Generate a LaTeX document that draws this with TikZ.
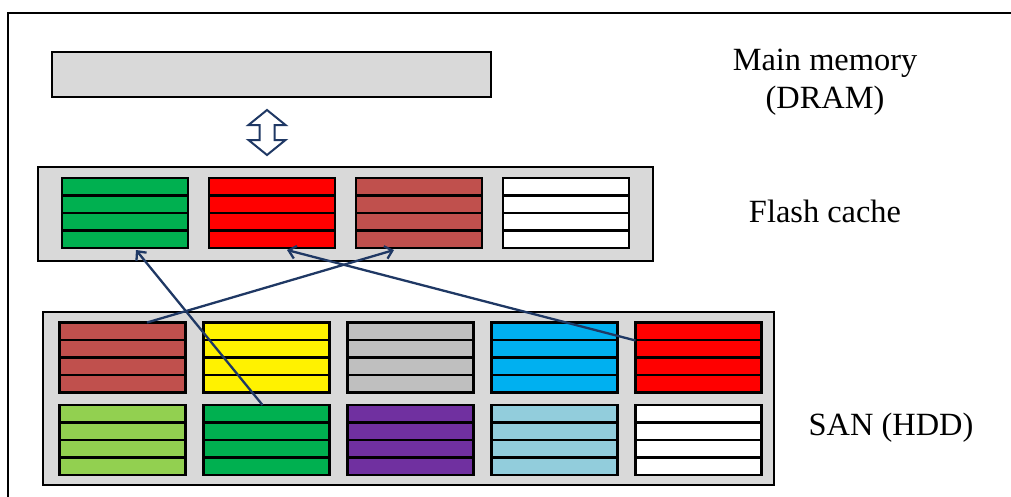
\documentclass[tikz,border=0pt]{standalone}
\usepackage{fontspec}
\setmainfont{Liberation Serif}
\usetikzlibrary{shapes, arrows.meta, calc}
\definecolor{boxgray}{HTML}{D9D9D9}
\definecolor{navy}{HTML}{1F3864}
\definecolor{fgreen}{HTML}{00B050}
\definecolor{lgreen}{HTML}{92D050}
\definecolor{brick}{HTML}{C0504D}
\definecolor{sky}{HTML}{00B0F0}
\definecolor{pale}{HTML}{92CDDC}
\definecolor{violet}{HTML}{7030A0}
\definecolor{silver}{HTML}{BFBFBF}
\tikzstyle{tier} = [rectangle, draw=black, fill=boxgray, line width=2.5, inner sep=0, outer sep=0]
\tikzstyle{block} = [rectangle, draw=black, line width=2.5, minimum width=126, minimum height=70, inner sep=0, outer sep=0]
\tikzstyle{stripe} = [line width=2.5]
\tikzstyle{label} = [font=\fontsize{32.4}{37.5}\selectfont, align=center, inner sep=0]
\tikzstyle{move} = [navy, line width=2.3, -{Straight Barb[length=7,width=13]}]
\newcommand{\blk}[4]{%
\node[block, fill=#4] (#1) at (#2,#3) {};
\foreach \f in {0.25,0.5,0.75}
  \draw[stripe] ($(#1.north west)!\f!(#1.south west)$) -- ($(#1.north east)!\f!(#1.south east)$);
}

\begin{document}
\begin{tikzpicture}[x=1pt, y=-1pt]
\useasboundingbox (0,0) rectangle (1011,496);
\draw[line width=2.5] (8,505) -- (8,13) -- (1020,13);

% main memory
\node[tier, minimum width=439, minimum height=45] (dram) at (271.5,74.5) {};
\draw[navy, line width=2, fill=white] (267,110) -- (285.5,125) -- (274.5,125) -- (274.5,140) -- (285.5,140)
  -- (267,155) -- (248.5,140) -- (259.5,140) -- (259.5,125) -- (248.5,125) -- cycle;

% flash cache
\node[tier, minimum width=615, minimum height=94] (flash) at (345.5,214) {};
\blk{f1}{125}{213}{fgreen}
\blk{f2}{272}{213}{red}
\blk{f3}{419}{213}{brick}
\blk{f4}{566}{213}{white}

% SAN
\node[tier, minimum width=731, minimum height=173] (san) at (408.5,398.5) {};
\blk{s11}{122.5}{357.5}{brick}
\blk{s12}{266.5}{357.5}{yellow}
\blk{s13}{410.5}{357.5}{silver}
\blk{s14}{554.5}{357.5}{sky}
\blk{s15}{698.5}{357.5}{red}
\blk{s21}{122.5}{440}{lgreen}
\blk{s22}{266.5}{440}{fgreen}
\blk{s23}{410.5}{440}{violet}
\blk{s24}{554.5}{440}{pale}
\blk{s25}{698.5}{440}{white}

\draw[move] ([xshift=-4]s22.north) -- ([xshift=11,yshift=-2]f1.south);
\draw[move] ([xshift=24.5]s11.north) -- ([xshift=-25,yshift=-2]f3.south);
\draw[move] ([yshift=17]s15.west) -- ([xshift=15,yshift=-2]f2.south);

\node[label] (dramlbl) at (825,82) {Main memory\\(DRAM)};
\node[label] (flashlbl) at (825,211) {Flash cache};
\node[label] (sanlbl) at (891,428) {SAN (HDD)};
\end{tikzpicture}
\end{document}
